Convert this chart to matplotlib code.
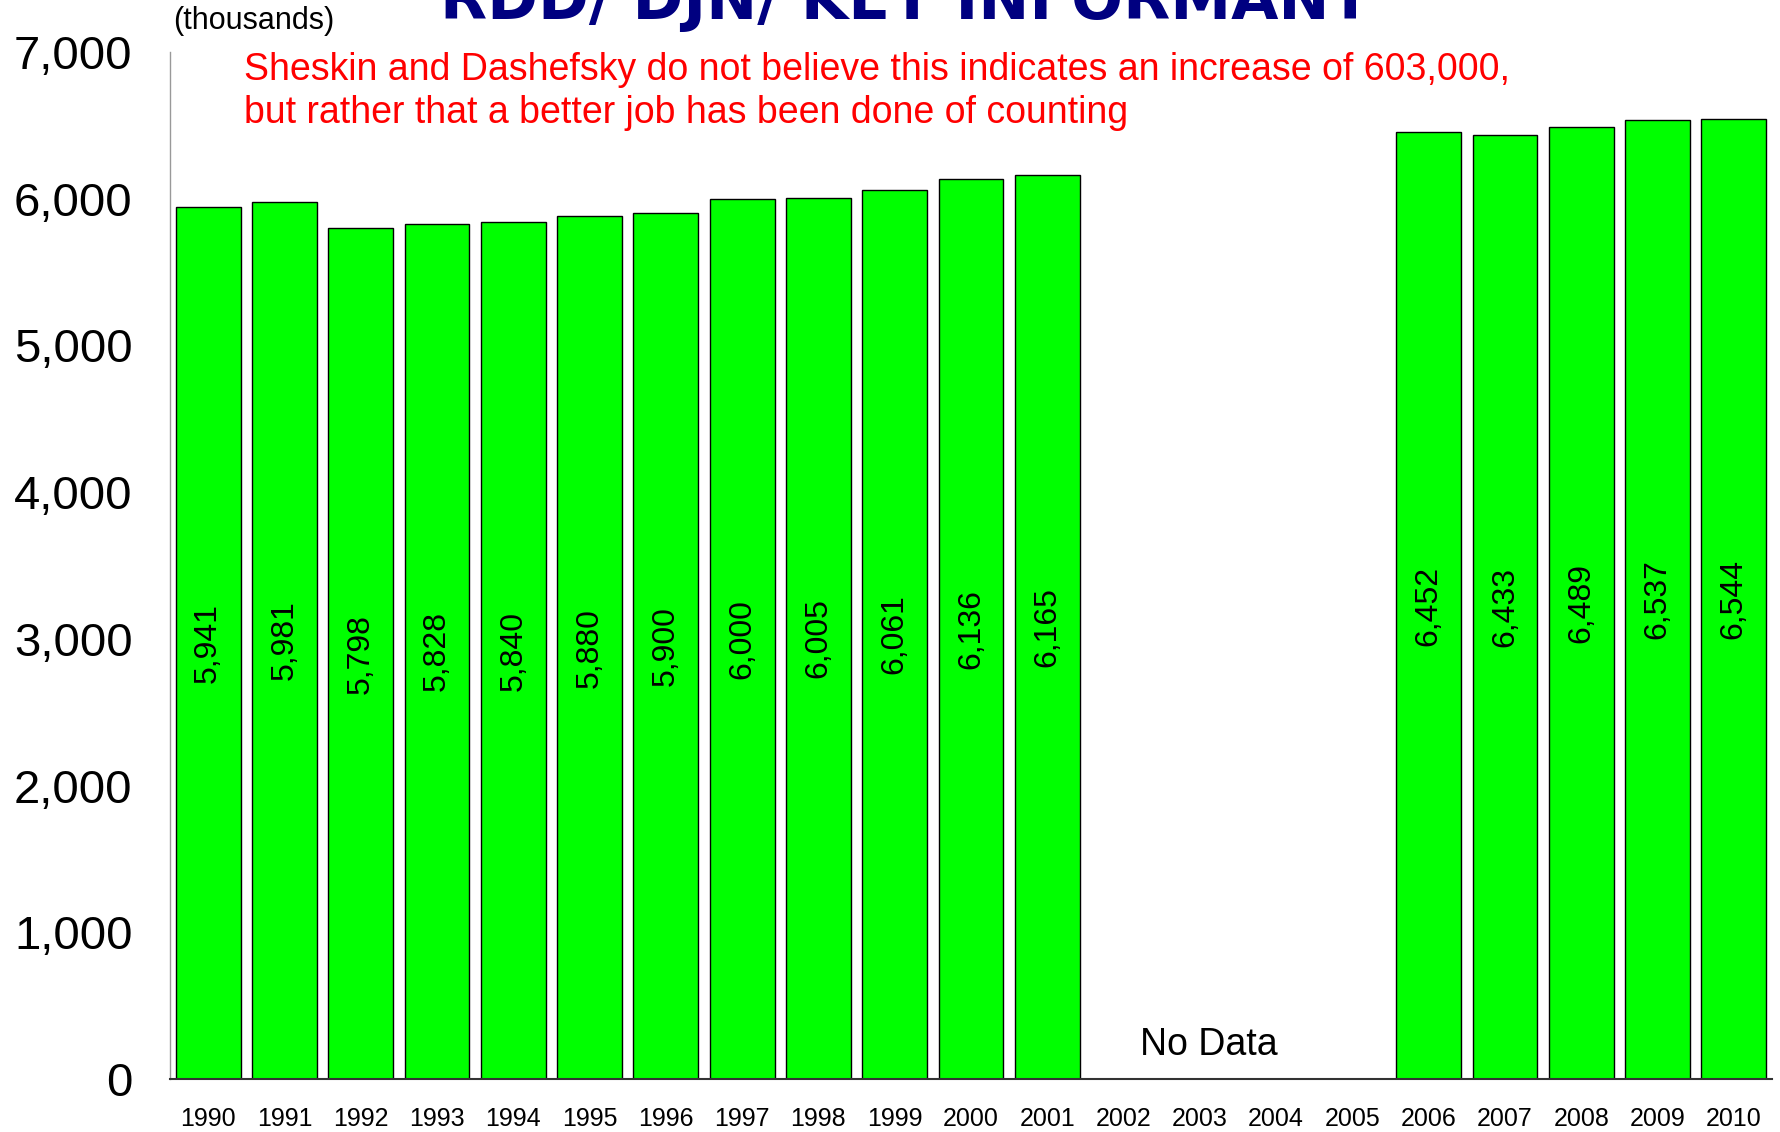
import matplotlib
matplotlib.use("Agg")
import matplotlib.pyplot as plt
import numpy as np

years = [str(y) for y in range(1990, 2011)]
values = [5941, 5981, 5798, 5828, 5840, 5880, 5900, 6000, 6005, 6061, 6136, 6165,
          None, None, None, None,
          6452, 6433, 6489, 6537, 6544]
yticks = [0, 1000, 2000, 3000, 4000, 5000, 6000, 7000]

title = "RDD/ DJN/ KEY INFORMANT"
note = ("Sheskin and Dashefsky do not believe this indicates an increase of 603,000,\n"
        "but rather that a better job has been done of counting")


def main():
    plt.rcParams['font.family'] = ['Liberation Sans', 'DejaVu Sans']

    fig = plt.figure(figsize=(17.81, 11.32), dpi=100)
    ax = fig.add_axes([170 / 1781, 53 / 1132, 1602 / 1781, 1027 / 1132])

    x = np.arange(len(years))
    have = [i for i, v in enumerate(values) if v is not None]
    vals = [values[i] for i in have]
    ax.bar(have, vals, width=0.85, color='#00FF00', edgecolor='black', linewidth=1)

    # value labels sit in the middle of each bar
    for i, v in zip(have, vals):
        ax.text(i, v / 2, f"{v:,}", rotation=90, ha='center', va='center',
                fontsize=23, color='black')

    ax.text(13.12, 230, "No Data", ha='center', va='center', fontsize=27)

    ax.set_xlim(-0.5, len(years) - 0.5)
    ax.set_ylim(0, 7000)
    ax.set_xticks(x)
    ax.set_xticklabels(years, fontsize=18)
    ax.set_yticks(yticks)
    ax.set_yticklabels([f"{t:,}" for t in yticks], fontsize=34)
    ax.tick_params(axis='both', length=0)
    ax.tick_params(axis='y', pad=27)
    ax.tick_params(axis='x', pad=20)

    for s in ['top', 'right']:
        ax.spines[s].set_visible(False)
    ax.spines['left'].set_color('#999999')
    ax.spines['left'].set_linewidth(1)
    ax.spines['bottom'].set_color('#333333')
    ax.spines['bottom'].set_linewidth(1.5)

    fig.text(173 / 1781, 1 - 21 / 1132, "(thousands)", fontsize=22, va='center', ha='left')
    fig.text(244 / 1781, 1 - 52 / 1132, note, fontsize=27, color='#FF0000',
             va='top', ha='left', linespacing=1.24)
    # title runs off the top edge, as in the original slide
    fig.text(906 / 1781, 1 - 19 / 1132, title, fontsize=44, color='#000080',
             fontweight='bold', ha='center', va='baseline',
             family=['DejaVu Sans'])

    fig.savefig("out.png", dpi=100)


if __name__ == "__main__":
    main()
